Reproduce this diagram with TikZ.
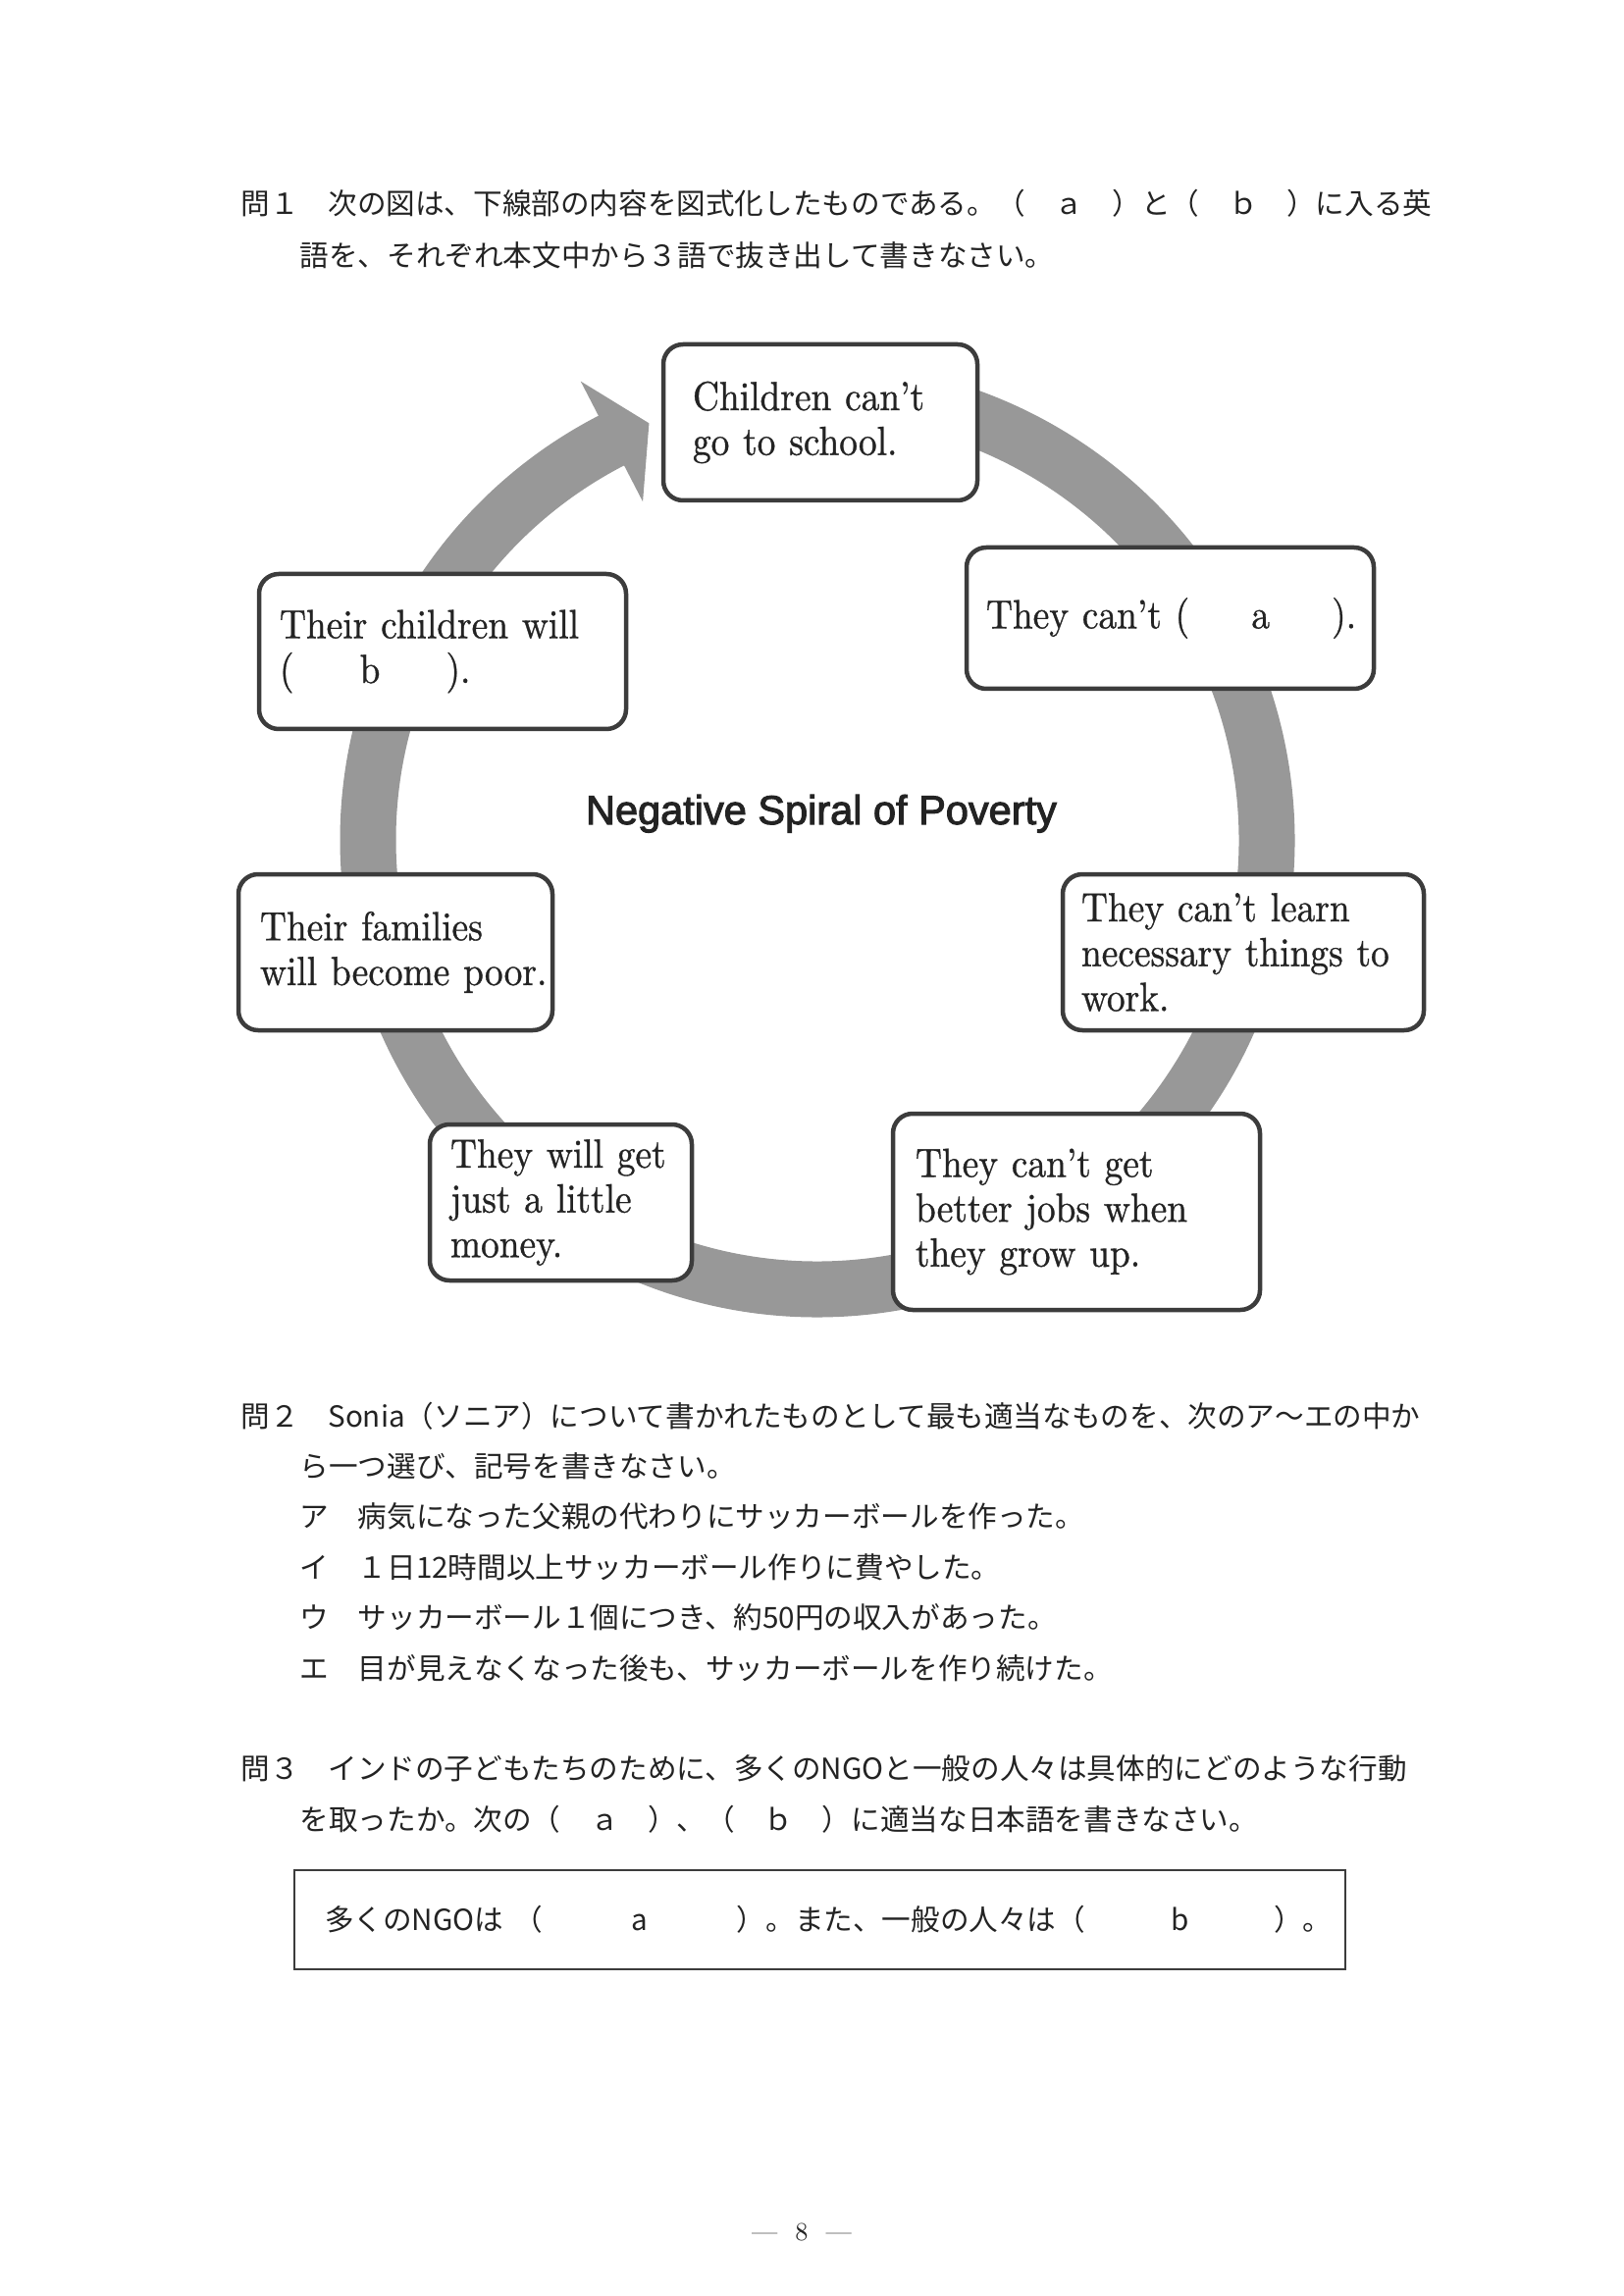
\documentclass[tikz,border=0pt]{standalone}
\usepackage{fontspec}
\newfontfamily\jpfont{Noto Sans CJK JP}
\newfontfamily\boxfont{lmroman10-regular.otf}[FakeStretch=0.9,FakeBold=0.8]
\newfontfamily\titlefont{Liberation Sans}[FakeBold=2.5]
\definecolor{ink}{RGB}{35,35,35}
\definecolor{ringgray}{RGB}{152,152,152}
\definecolor{cardline}{RGB}{60,60,60}
\newdimen\pxu \pxu=0.127mm

\begin{document}
\begin{tikzpicture}[x=1\pxu,y=-1\pxu,
    card/.style={draw=cardline,line width=4.5\pxu,rounded corners=20\pxu,fill=white,text=ink,
      align=left,inner ysep=0pt,font={\boxfont\fontsize{15pt}{16.5pt}\selectfont\hyphenpenalty=10000 }},
    jpline/.style={anchor=base west,inner sep=0pt,text=ink,font={\jpfont\fontsize{10.7pt}{19pt}\selectfont}}]
    \fill[white] (0,0) rectangle (1654,2340);
    \useasboundingbox (0,0) rectangle (1654,2340);

    % question 1
    \node[jpline] (q1a) at (245,219) {問１　次の図は、下線部の内容を図式化したものである。（　ａ　）と（　ｂ　）に入る英};
    \node[jpline] (q1b) at (305,272) {語を、それぞれ本文中から３語で抜き出して書きなさい。};

    % the ring and its arrow head
    \coordinate (hub) at (833,856);
    \draw[ringgray,line width=57\pxu] (hub) ++(-95:458) arc[start angle=-95,end angle=243.5,radius=458];
    \fill[ringgray] ([shift={(242.7:388)}]hub) -- ([shift={(242.7:526)}]hub) -- ([shift={(248:458)}]hub) -- cycle;

    \node[text=ink,font={\titlefont\fontsize{15pt}{18pt}\selectfont},anchor=base] (title) at (837,840) {Negative Spiral of Poverty};

    % create the steps
    \node[card,inner xsep=30\pxu,text width=260\pxu,minimum height=159\pxu] (school) at (836,430.5) {Children~can’t\\go~to~school.};
    \node[card,inner xsep=20\pxu,text width=375\pxu,minimum height=144\pxu] (cant) at (1192.5,630) {They~can’t~(\makebox[145\pxu]{a}).};
    \node[card,inner xsep=19\pxu,text width=330\pxu,minimum height=159\pxu] (learn) at (1267,970.5) {They~can’t~learn\\necessary~things~to\\work.};
    \node[card,inner xsep=23\pxu,text width=328\pxu,minimum height=200\pxu] (jobs) at (1097,1235) {They~can’t~get\\better~jobs~when\\they~grow~up.};
    \node[card,inner xsep=21\pxu,text width=225\pxu,minimum height=159\pxu] (money) at (571.5,1225.5) {They~will~get\\just~a~little\\money.};
    \node[card,inner xsep=22\pxu,text width=276\pxu,minimum height=159\pxu] (poor) at (403,970.5) {Their~families\\will~become~poor.};
    \node[card,inner xsep=21\pxu,text width=332\pxu,minimum height=158\pxu] (kids) at (451,664) {Their~children~will\\(\makebox[155\pxu]{b}).};

    % question 2
    \node[jpline] (q2a) at (245,1454) {問２　Sonia（ソニア）について書かれたものとして最も適当なものを、次のア～エの中か};
    \node[jpline] (q2b) at (305,1505) {ら一つ選び、記号を書きなさい。};
    \node[jpline] (q2c) at (305,1556) {ア　病気になった父親の代わりにサッカーボールを作った。};
    \node[jpline] (q2d) at (305,1608) {イ　１日12時間以上サッカーボール作りに費やした。};
    \node[jpline] (q2e) at (305,1659) {ウ　サッカーボール１個につき、約50円の収入があった。};
    \node[jpline] (q2f) at (305,1711) {エ　目が見えなくなった後も、サッカーボールを作り続けた。};

    % question 3
    \node[jpline] (q3a) at (245,1813) {問３　インドの子どもたちのために、多くのNGOと一般の人々は具体的にどのような行動};
    \node[jpline] (q3b) at (305,1865) {を取ったか。次の（　ａ　）、（　ｂ　）に適当な日本語を書きなさい。};
    \node[jpline,anchor=center,draw=cardline,line width=2\pxu,minimum height=101\pxu,inner xsep=31\pxu,
      text width=1009\pxu,align=left] (answer) at (835.5,1956.5)
      {多くのNGOは\hspace{10\pxu}（\makebox[198\pxu]{a}）。また、一般の人々は（\makebox[192\pxu]{b}）。};

    \node[text=ink,font={\fontsize{9.5pt}{11pt}\selectfont}] (page) at (817,2275) {—\hspace{18\pxu}8\hspace{18\pxu}—};
\end{tikzpicture}
\end{document}
